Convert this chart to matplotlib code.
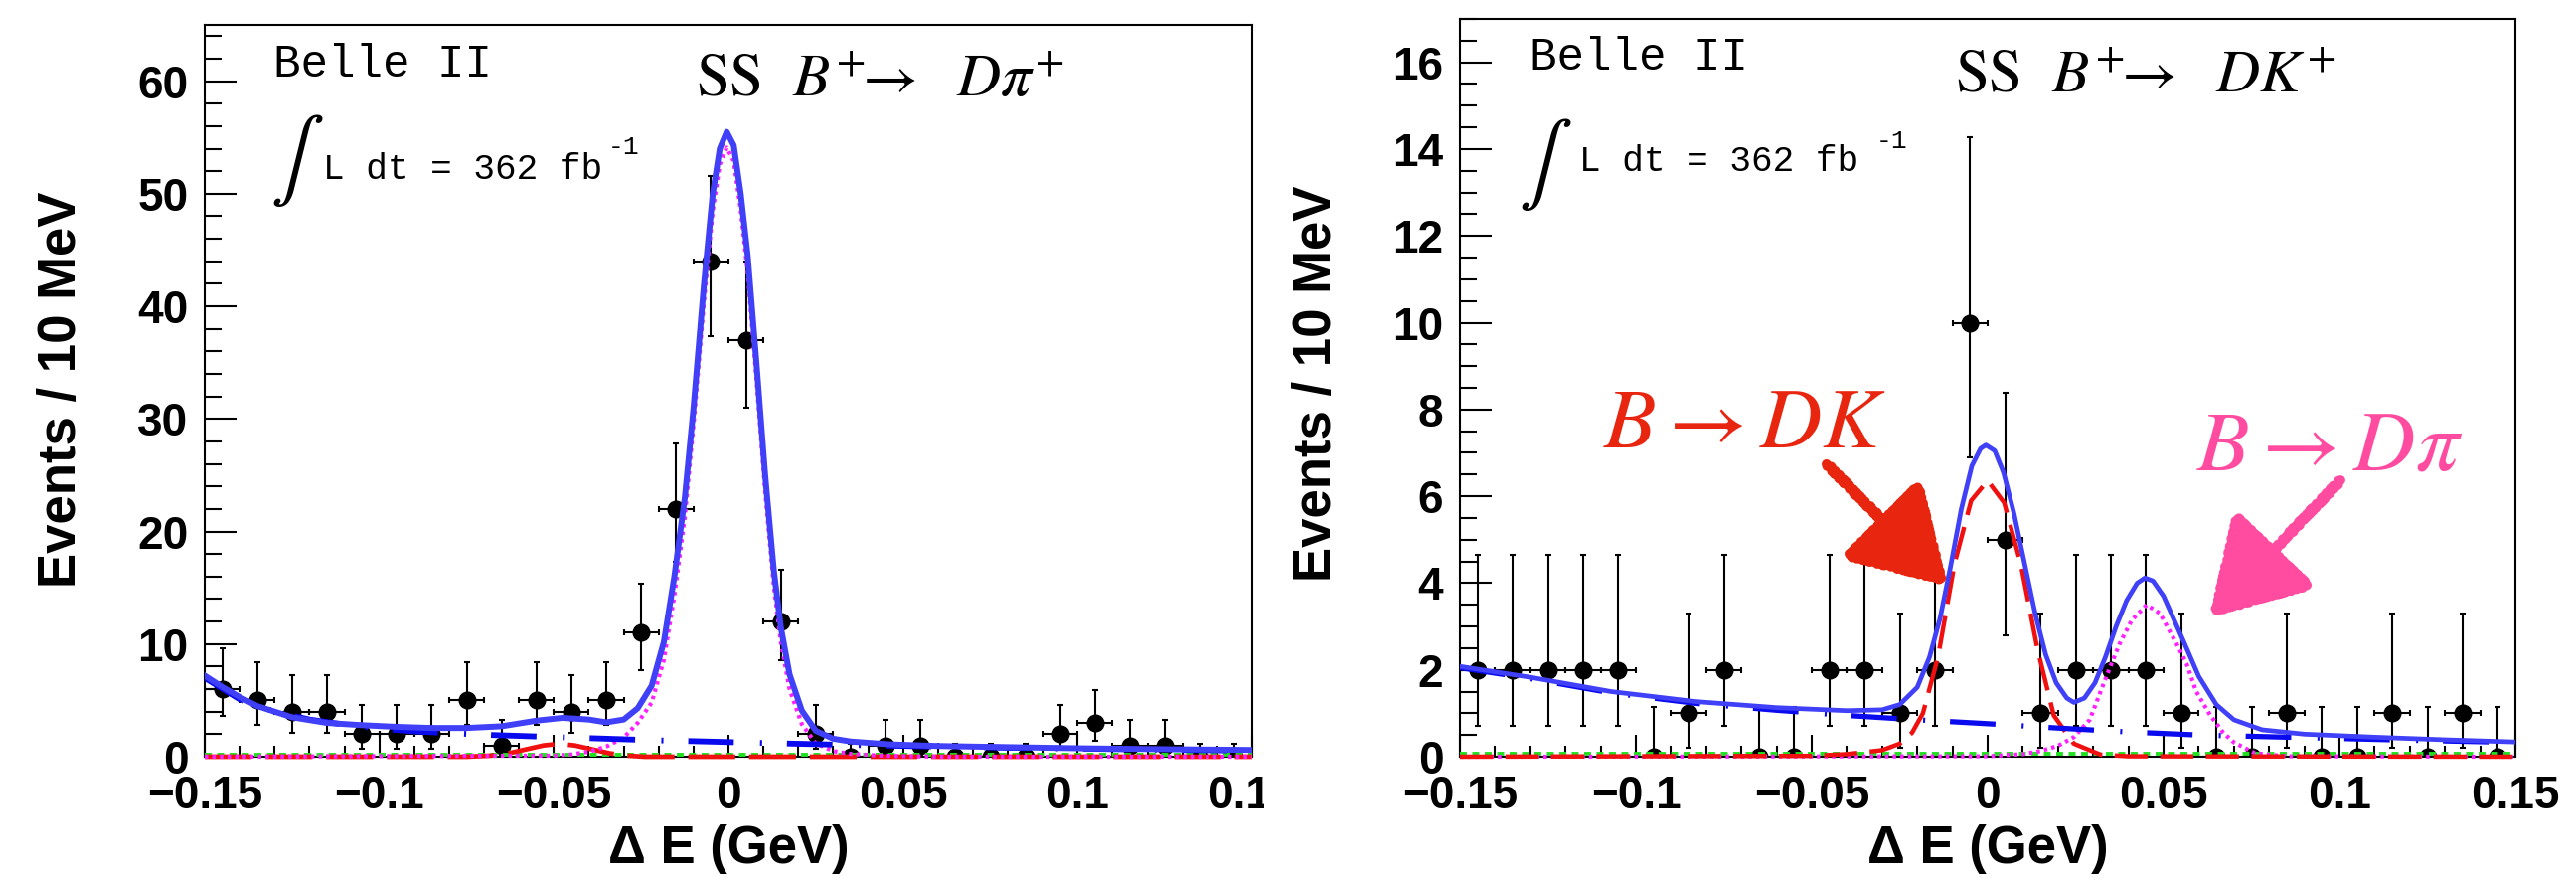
import matplotlib
matplotlib.use('Agg')
import matplotlib.pyplot as plt
from matplotlib.ticker import FixedLocator, MultipleLocator
from matplotlib.transforms import Bbox, TransformedBbox

plt.rcParams['mathtext.fontset'] = 'stix'
plt.rcParams['font.family'] = ['Liberation Sans', 'DejaVu Sans']
plt.rcParams['lines.scale_dashes'] = False

# ---- data ----------------------------------------------------------------
# 10 MeV bins
bin_centres = [-0.145, -0.135, -0.125, -0.115, -0.105, -0.095, -0.085, -0.075,
               -0.065, -0.055, -0.045, -0.035, -0.025, -0.015, -0.005, 0.005,
               0.015, 0.025, 0.035, 0.045, 0.055, 0.065, 0.075, 0.085, 0.095,
               0.105, 0.115, 0.125, 0.135, 0.145]

# B+ -> D pi+
counts_dpi = [6, 5, 4, 4, 2, 2, 2, 5, 1, 5, 4, 5, 11, 22, 44, 37, 12, 2, 0, 1,
              1, 0, 0, 0, 2, 3, 1, 1, 0, 0]
err_lo_dpi = [2.4, 2.2, 1.9, 1.9, 1.3, 1.3, 1.3, 2.2, 0.8, 2.2, 1.9, 2.2, 3.3,
              4.7, 6.6, 6.0, 3.4, 1.3, 0, 0.8, 0.8, 0, 0, 0, 1.3, 1.6, 0.8, 0.8,
              0, 0]
err_hi_dpi = [3.6, 3.4, 3.2, 3.2, 2.6, 2.6, 2.6, 3.4, 2.3, 3.4, 3.2, 3.4, 4.4,
              5.8, 7.6, 7.0, 4.6, 2.6, 1.15, 2.3, 2.3, 1.15, 1.15, 1.15, 2.6,
              2.9, 2.3, 2.3, 1.15, 1.15]

# B+ -> D K+
counts_dk = [2, 2, 2, 2, 2, 0, 1, 2, 0, 0, 2, 2, 1, 2, 10, 5, 1, 2, 2, 2, 1, 0,
             0, 1, 0, 0, 1, 0, 1, 0]
err_lo_dk = [1.3, 1.3, 1.3, 1.3, 1.3, 0, 0.8, 1.3, 0, 0, 1.3, 1.3, 0.8, 1.3,
             3.1, 2.2, 0.8, 1.3, 1.3, 1.3, 0.8, 0, 0, 0.8, 0, 0, 0.8, 0, 0.8, 0]
err_hi_dk = [2.64, 2.64, 2.64, 2.64, 2.64, 1.15, 2.3, 2.64, 1.15, 1.15, 2.64,
             2.64, 2.3, 2.64, 4.27, 3.38, 2.3, 2.64, 2.64, 2.64, 2.3, 1.15, 1.15,
             2.3, 1.15, 1.15, 2.3, 1.15, 2.3, 1.15]

# fit components, D pi panel
tot_dpi_x = [-0.15, -0.145, -0.14, -0.135, -0.125, -0.115, -0.105, -0.095,
             -0.085, -0.075, -0.065, -0.055, -0.0475, -0.04, -0.035, -0.03,
             -0.026, -0.022, -0.0185, -0.0155, -0.0125, -0.01, -0.007, -0.0045,
             -0.0025, -0.0005, 0.0015, 0.0035, 0.0055, 0.008, 0.0105, 0.013,
             0.015, 0.0175, 0.021, 0.025, 0.03, 0.035, 0.046, 0.06, 0.08, 0.1,
             0.12, 0.15]
tot_dpi_y = [7.2, 6.2, 5.3, 4.5, 3.5, 3.0, 2.8, 2.65, 2.55, 2.55, 2.7, 3.2,
             3.45, 3.3, 3.05, 3.3, 4.3, 6.3, 10.2, 16.0, 23.0, 31.0, 42.0, 50.0,
             54.0, 55.5, 54.3, 50.0, 44.5, 35.0, 25.0, 16.5, 11.5, 7.3, 4.1,
             2.3, 1.6, 1.35, 1.1, 0.95, 0.85, 0.75, 0.68, 0.6]
bkg_dpi_x = [-0.15, -0.14, -0.13, -0.12, -0.11, -0.10, -0.09, -0.08, -0.07,
             -0.06, -0.05, -0.04, -0.03, -0.02, -0.01, 0.0, 0.01, 0.02, 0.03,
             0.04, 0.05, 0.06, 0.07, 0.08, 0.09, 0.10, 0.11, 0.12, 0.13, 0.14,
             0.15]
bkg_dpi_y = [7.0, 5.1, 4.0, 3.3, 2.85, 2.5, 2.25, 2.1, 1.95, 1.85, 1.75, 1.65,
             1.55, 1.45, 1.38, 1.3, 1.22, 1.15, 1.08, 1.02, 0.96, 0.9, 0.85, 0.8,
             0.76, 0.72, 0.68, 0.64, 0.6, 0.57, 0.54]
dk_dpi_x = [-0.15, -0.075, -0.068, -0.063, -0.058, -0.053, -0.0485, -0.044,
            -0.039, -0.034, -0.029, -0.024, 0.15]
dk_dpi_y = [0.0, 0.0, 0.1, 0.3, 0.65, 1.0, 1.15, 1.0, 0.65, 0.3, 0.1, 0.0, 0.0]
sig_dpi_x = [-0.15, -0.05, -0.045, -0.04, -0.035, -0.03, -0.026, -0.022,
             -0.0185, -0.0155, -0.0125, -0.01, -0.007, -0.0045, -0.0025,
             -0.0005, 0.0015, 0.0035, 0.0055, 0.008, 0.0105, 0.013, 0.015,
             0.0175, 0.021, 0.025, 0.03, 0.035, 0.045, 0.06, 0.15]
sig_dpi_y = [0.0, 0.1, 0.2, 0.45, 0.9, 1.7, 3.0, 4.8, 8.6, 14.3, 21.3, 29.5,
             40.5, 48.5, 52.6, 54.1, 52.9, 48.6, 43.0, 33.6, 23.6, 15.1, 10.2,
             6.0, 2.9, 1.2, 0.5, 0.25, 0.08, 0.0, 0.0]
flat_dpi_x = [-0.15, 0.15]
flat_dpi_y = [0.2, 0.2]

# fit components, D K panel
tot_dk_x = [-0.15, -0.13, -0.107, -0.083, -0.06, -0.04, -0.03, -0.025, -0.02,
            -0.0165, -0.0135, -0.0105, -0.0075, -0.0045, -0.002, -0.0005,
            0.002, 0.0045, 0.0075, 0.0105, 0.0135, 0.0165, 0.0195, 0.0225,
            0.0245, 0.0275, 0.0305, 0.0335, 0.0365, 0.0395, 0.0425, 0.0447,
            0.047, 0.05, 0.053, 0.056, 0.06, 0.065, 0.07, 0.078, 0.09, 0.11,
            0.13, 0.15]
tot_dk_y = [2.08, 1.83, 1.5, 1.27, 1.13, 1.06, 1.08, 1.2, 1.6, 2.3, 3.2, 4.4,
            5.7, 6.7, 7.1, 7.18, 7.05, 6.55, 5.6, 4.45, 3.3, 2.35, 1.7, 1.35,
            1.25, 1.35, 1.7, 2.3, 3.0, 3.6, 4.0, 4.12, 4.05, 3.7, 3.15, 2.6,
            1.85, 1.2, 0.85, 0.62, 0.52, 0.45, 0.39, 0.34]
bkg_dk_x = [-0.15, -0.13, -0.107, -0.083, -0.06, -0.04, -0.02, 0.0, 0.02, 0.04,
            0.06, 0.08, 0.1, 0.12, 0.15]
bkg_dk_y = [2.05, 1.8, 1.47, 1.23, 1.07, 0.95, 0.85, 0.76, 0.66, 0.57, 0.5,
            0.46, 0.42, 0.38, 0.33]
sig_dk_x = [-0.15, -0.05, -0.04, -0.03, -0.025, -0.0215, -0.0184, -0.0141,
            -0.0094, -0.0047, 0.0, 0.0047, 0.0094, 0.0141, 0.0188, 0.0245,
            0.032, 0.04, 0.15]
sig_dk_y = [0.0, 0.02, 0.06, 0.15, 0.3, 0.55, 1.0, 2.3, 4.45, 5.9, 6.36, 5.85,
            4.45, 2.5, 0.95, 0.3, 0.05, 0.01, 0.0]
dpi_dk_x = [-0.15, 0.0, 0.01, 0.015, 0.02, 0.0245, 0.029, 0.034, 0.0375, 0.041,
            0.0452, 0.049, 0.0537, 0.0565, 0.0593, 0.0633, 0.067, 0.07, 0.076,
            0.085, 0.15]
dpi_dk_y = [0.0, 0.01, 0.06, 0.13, 0.25, 0.45, 0.85, 1.9, 2.6, 3.15, 3.5, 3.3,
            2.6, 2.15, 1.5, 0.95, 0.55, 0.33, 0.08, 0.01, 0.0]
flat_dk_x = [-0.15, 0.15]
flat_dk_y = [0.07, 0.07]

x_ticks = [-0.15, -0.1, -0.05, 0, 0.05, 0.1, 0.15]
x_ticklabels = ['\u22120.15', '\u22120.1', '\u22120.05', '0', '0.05', '0.1', '0.15']

W, H = 2592, 883
fig = plt.figure(figsize=(W / 100, H / 100), dpi=100)
fig.patch.set_facecolor('white')


def fx(px):
    return px / W


def fy(py):
    return 1 - py / H


axL = fig.add_axes([fx(206), fy(761), (1260 - 206) / W, (761 - 25) / H])
axR = fig.add_axes([fx(1469), fy(761), (2531 - 1469) / W, (761 - 19) / H])

BLUE = '#4040f8'
DBLUE = '#0a0aef'
RED = '#f01010'
MAG = '#ff20ff'
GREEN = '#20e020'


def style_axes(ax, ymax, ymajor, yminor):
    ax.set_xlim(-0.15, 0.15)
    ax.set_ylim(0, ymax)
    ax.xaxis.set_major_locator(FixedLocator(x_ticks))
    ax.set_xticklabels(x_ticklabels)
    ax.xaxis.set_minor_locator(MultipleLocator(0.01))
    ax.yaxis.set_major_locator(MultipleLocator(ymajor))
    ax.yaxis.set_minor_locator(MultipleLocator(yminor))
    ax.tick_params(which='both', direction='in', top=False, right=False,
                   width=1.5, labelsize=33, color='black')
    ax.tick_params(axis='x', which='major', length=16, pad=13)
    ax.tick_params(axis='x', which='minor', length=8)
    ax.tick_params(axis='y', which='major', length=23, pad=12)
    ax.tick_params(axis='y', which='minor', length=12)
    for lab in ax.get_xticklabels() + ax.get_yticklabels():
        lab.set_fontweight('bold')
    for s in ax.spines.values():
        s.set_linewidth(1.5)


def draw_data(ax, counts, lo, hi):
    ax.errorbar(bin_centres, counts, xerr=0.005, yerr=[lo, hi], fmt='o',
                color='black', ms=12, elinewidth=1.5, capsize=2.5,
                capthick=1.5, zorder=2)


def draw_line(ax, x, y, color, lw, dashes, clip=True, z=3):
    line, = ax.plot(x, y, color=color, lw=lw, zorder=z, clip_on=clip)
    if dashes is not None:
        line.set_dashes(dashes)
        line.set_dash_capstyle('butt')
    return line


# ---- left: D pi ----
style_axes(axL, 65, 10, 2)
draw_data(axL, counts_dpi, err_lo_dpi, err_hi_dpi)
draw_line(axL, flat_dpi_x, flat_dpi_y, GREEN, 2.8, (5, 4), clip=False)
draw_line(axL, dk_dpi_x, dk_dpi_y, RED, 3.4, (34, 10), clip=False, z=3.1)
draw_line(axL, sig_dpi_x, sig_dpi_y, MAG, 3.0, (2.5, 3), clip=False, z=3.2)
draw_line(axL, bkg_dpi_x, bkg_dpi_y, DBLUE, 4.2, (33, 19, 1.5, 18), z=3.3)
draw_line(axL, tot_dpi_x, tot_dpi_y, BLUE, 4.3, None, z=3.4)

# ---- right: D K ----
style_axes(axR, 17, 2, 0.5)
draw_data(axR, counts_dk, err_lo_dk, err_hi_dk)
draw_line(axR, flat_dk_x, flat_dk_y, GREEN, 2.8, (5, 4), clip=False)
draw_line(axR, dpi_dk_x, dpi_dk_y, MAG, 3.0, (2.5, 3), clip=False, z=3.1)
draw_line(axR, sig_dk_x, sig_dk_y, RED, 3.2, (24, 9), clip=False, z=3.2)
draw_line(axR, bkg_dk_x, bkg_dk_y, DBLUE, 3.8, (33, 19, 1.5, 18), z=3.3)
draw_line(axR, tot_dk_x, tot_dk_y, BLUE, 3.4, None, z=3.4)

# left picture was cropped just right of its frame
clipbox = TransformedBbox(Bbox([[0, 0], [1272 / W, 1]]), fig.transFigure)
for lab in axL.get_xticklabels():
    lab.set_clip_box(clipbox)
    lab.set_clip_on(True)

# ---- axis titles ----
for cx, cy in [(62, 392), (1325, 386)]:
    fig.text(fx(cx), fy(cy), 'Events / 10 MeV', rotation=90, ha='center',
             va='center', fontsize=38, fontweight='bold')
for cx in [733, 2000]:
    fig.text(fx(cx), fy(868), '\u0394 E (GeV)', ha='center', va='baseline',
             fontsize=38, fontweight='bold')

# ---- Belle II labels ----
mono = ['Liberation Mono', 'DejaVu Sans Mono']
for bx, by, ix, iy, lx, ly, sx, sy in [(275, 77, 272, 161, 325, 180, 612, 155),
                                       (1539, 70, 1528, 165, 1589, 172, 1888, 149)]:
    fig.text(fx(bx), fy(by), 'Belle II', family=mono, fontsize=33, va='baseline')
    fig.text(fx(ix), fy(iy), r'$\int$', fontsize=58, ha='left', va='center')
    fig.text(fx(lx), fy(ly), 'L dt = 362 fb', family=mono, fontsize=26,
             va='baseline')
    fig.text(fx(sx), fy(sy), '-1', family=mono, fontsize=19, va='baseline')

fig.text(fx(700), fy(97), r'$\mathrm{SS}\ \ B^{+}\!\!\rightarrow\ \ D\pi^{+}$',
         fontsize=44, va='baseline')
fig.text(fx(1967), fy(93), r'$\mathrm{SS}\ \ B^{+}\!\!\rightarrow\ \ DK^{+}$',
         fontsize=44, va='baseline')

# ---- hand-drawn annotations on the D K panel ----
RED_TXT = '#e8260f'
PINK = '#ff4ba0'
axR.text(-0.1093, 7.13, r'$B\rightarrow DK$', color=RED_TXT, fontsize=62,
         va='baseline', zorder=5)
axR.text(0.0593, 6.6, r'$B\rightarrow D\pi$', color=PINK, fontsize=62,
         va='baseline', zorder=5)
for tail, tip, col in [((-0.0458, 6.74), (-0.0116, 3.96), RED_TXT),
                       ((0.1003, 6.37), (0.0633, 3.23), PINK)]:
    ann = axR.annotate('', xy=tip, xytext=tail, zorder=5,
                       arrowprops=dict(arrowstyle='-|>,head_length=1.0,head_width=0.6',
                                       mutation_scale=58, lw=7, color=col,
                                       shrinkA=0, shrinkB=0))
    ann.arrow_patch.set_sketch_params(1.5, 6, 3)

fig.savefig('out.png', dpi=100, facecolor='white')
